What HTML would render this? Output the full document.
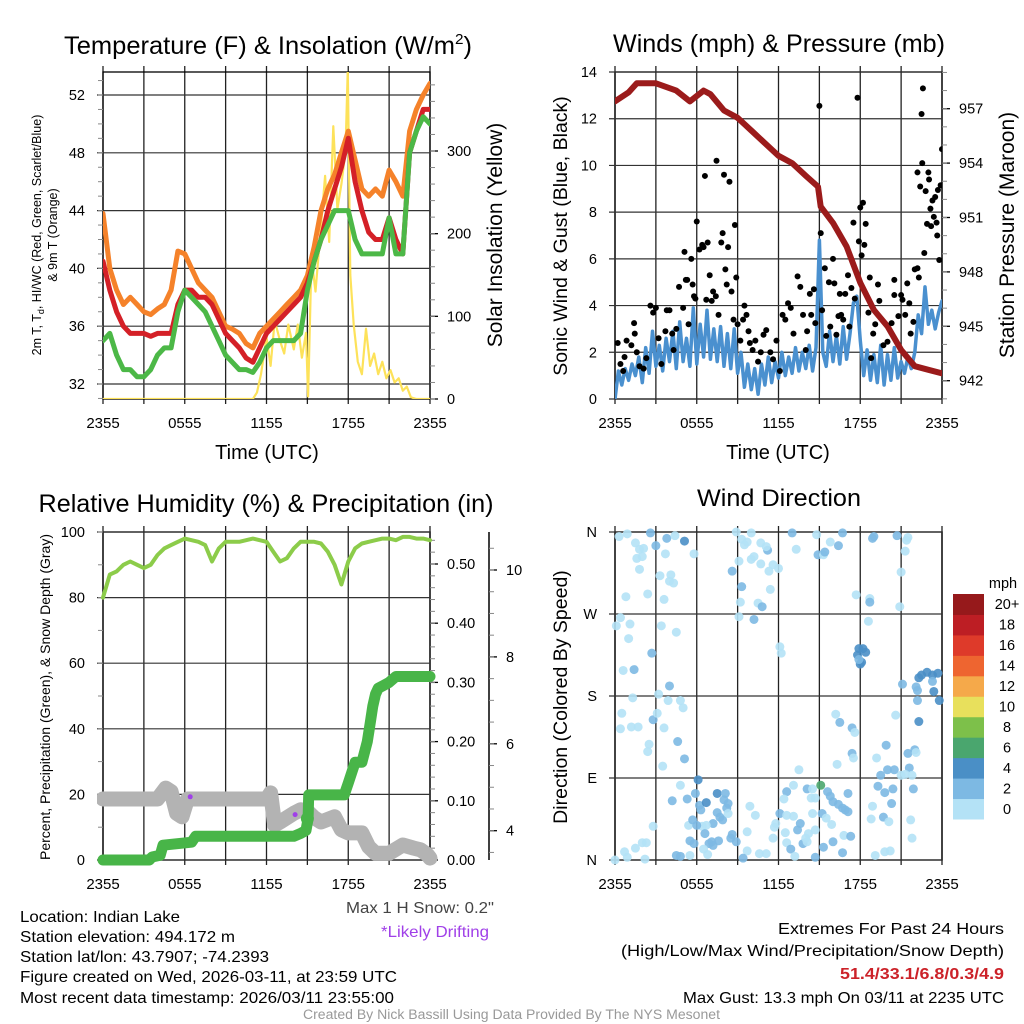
<!DOCTYPE html>
<html><head><meta charset="utf-8"><style>
html,body{margin:0;padding:0;background:#fff;}
svg{display:block;font-family:"Liberation Sans",sans-serif;}
</style></head><body>
<svg id="fig" width="1024" height="1024" viewBox="0 0 1024 1024" xmlns="http://www.w3.org/2000/svg">
<defs>
<clipPath id="c1"><rect x="103" y="72" width="327" height="327"/></clipPath>
<clipPath id="c2"><rect x="615" y="72" width="327" height="327"/></clipPath>
<clipPath id="c3"><rect x="97" y="526" width="345" height="345"/></clipPath>
<clipPath id="c4"><rect x="609" y="526" width="339" height="340"/></clipPath>
</defs>
<text x="268" y="54" font-size="25" text-anchor="middle" textLength="408" lengthAdjust="spacingAndGlyphs">Temperature (F) &amp; Insolation (W/m<tspan dy="-10" font-size="15">2</tspan><tspan dy="10">)</tspan></text>
<text x="779" y="52" font-size="25" text-anchor="middle" textLength="332" lengthAdjust="spacingAndGlyphs">Winds (mph) &amp; Pressure (mb)</text>
<text x="266" y="512" font-size="25" text-anchor="middle" textLength="455" lengthAdjust="spacingAndGlyphs">Relative Humidity (%) &amp; Precipitation (in)</text>
<text x="779" y="506" font-size="24.5" text-anchor="middle" textLength="164" lengthAdjust="spacingAndGlyphs">Wind Direction</text>
<text transform="translate(41,235) rotate(-90)" font-size="12.5" text-anchor="middle">2m T, T<tspan dy="3" font-size="9">d</tspan><tspan dy="-3">, HI/WC (Red, Green, Scarlet/Blue)</tspan></text>
<text transform="translate(57,235) rotate(-90)" font-size="12.5" text-anchor="middle">&amp; 9m T (Orange)</text>
<text transform="translate(502,235) rotate(-90)" font-size="21" text-anchor="middle">Solar Insolation (Yellow)</text>
<text transform="translate(567,236) rotate(-90)" font-size="19.5" text-anchor="middle">Sonic Wind &amp; Gust (Blue, Black)</text>
<text transform="translate(1014,235) rotate(-90)" font-size="21" text-anchor="middle">Station Pressure (Maroon)</text>
<text transform="translate(50,697) rotate(-90)" font-size="14" text-anchor="middle">Percent, Precipitation (Green), &amp; Snow Depth (Gray)</text>
<text transform="translate(567,697) rotate(-90)" font-size="19.5" text-anchor="middle">Direction (Colored By Speed)</text>
<text x="267" y="459" font-size="20" text-anchor="middle">Time (UTC)</text>
<text x="778" y="459" font-size="20" text-anchor="middle">Time (UTC)</text>
<text x="346" y="913" font-size="16" fill="#444" textLength="148" lengthAdjust="spacingAndGlyphs">Max 1 H Snow: 0.2"</text>
<text x="381" y="937" font-size="16" fill="#a040e8" textLength="108" lengthAdjust="spacingAndGlyphs">*Likely Drifting</text>
<g font-size="16">
<text x="20" y="922" textLength="160" lengthAdjust="spacingAndGlyphs">Location: Indian Lake</text>
<text x="20" y="942" textLength="215" lengthAdjust="spacingAndGlyphs">Station elevation: 494.172 m</text>
<text x="20" y="962" textLength="249" lengthAdjust="spacingAndGlyphs">Station lat/lon: 43.7907; -74.2393</text>
<text x="20" y="982" textLength="377" lengthAdjust="spacingAndGlyphs">Figure created on Wed, 2026-03-11, at 23:59 UTC</text>
<text x="20" y="1003" textLength="374" lengthAdjust="spacingAndGlyphs">Most recent data timestamp: 2026/03/11 23:55:00</text>
</g>
<g font-size="16">
<text x="778" y="934" textLength="226" lengthAdjust="spacingAndGlyphs">Extremes For Past 24 Hours</text>
<text x="621" y="956" textLength="383" lengthAdjust="spacingAndGlyphs">(High/Low/Max Wind/Precipitation/Snow Depth)</text>
<text x="840" y="979" fill="#cc2229" font-weight="bold" textLength="164" lengthAdjust="spacingAndGlyphs">51.4/33.1/6.8/0.3/4.9</text>
<text x="683" y="1003" textLength="321" lengthAdjust="spacingAndGlyphs">Max Gust: 13.3 mph On 03/11 at 2235 UTC</text>
</g>
<text x="303" y="1019" font-size="13.5" fill="#999" textLength="417" lengthAdjust="spacingAndGlyphs">Created By Nick Bassill Using Data Provided By The NYS Mesonet</text>
</svg>
<script>
// ---------- DATA ----------
const halfHours = [0,0.5,1,1.5,2,2.5,3,3.5,4,4.5,5,5.5,6,6.5,7,7.5,8,8.5,9,9.5,10,10.5,11,11.5,12,12.5,13,13.5,14,14.5,15,15.5,16,16.5,17,17.5,18,18.5,19,19.5,20,20.5,21,21.5,22,22.5,23,23.5,24];
const tempRed = [40.5,38.5,37,36,35.5,35.5,35.5,35.3,35.5,35.5,35.5,37.5,38.5,38.5,38,38,37.5,36.5,35.5,35,34.5,33.8,33.5,34.5,35.5,36,36.5,37,37.5,38,39,40.5,42,44,45.5,47,49,46,44,42.5,42,42,43.5,42,41,48,49.5,51,51];
const tempOrange = [43.8,40,38.5,37.5,38,37.5,37,36.8,37.2,37.5,38.5,41.2,41,40,39,38.5,38,37,36,35.8,35.5,34.8,34.5,35.5,36,36.5,37,37.5,38,38.5,39.5,41.5,44,45.5,46.5,48,49.5,47.5,45.5,45,45.5,45,46.8,46,45,49.5,51,52,52.8];
const tempGreen = [35,35.5,34,33,33,32.5,32.5,33,34,34.5,34.5,37,38.5,38,37.5,37,36,35,34,33.5,33,33,32.8,33.5,34.5,35,35,35,35,35.5,38.5,40.5,42,43,44,44,44,42,41,41,41,41,43.5,41,41,48,49.5,50.5,50];
const insolTimes = [0,11,11.3,11.6,12,12.3,12.6,13,13.3,13.6,14,14.3,14.6,14.9,15.05,15.3,15.6,16,16.3,16.6,16.9,17.2,17.5,17.8,17.97,18.15,18.4,18.7,19,19.3,19.6,19.9,20.2,20.5,20.8,21.1,21.4,21.7,22,22.3,22.6,23,24];
const insolValues = [0,0,8,30,75,40,95,70,55,90,60,90,50,80,3,170,130,210,270,190,330,230,260,300,400,150,90,45,30,85,40,55,30,45,25,35,20,25,10,15,2,0,0];
const tempTicks = [32,36,40,44,48,52];
const insolTicks = [0,100,200,300];
const timeTickLabels = ["2355","0555","1155","1755","2355"];

const pressureTimes = [0,1,1.6,3,4.5,5.5,6.5,7,8,9,10,11,12,13,14,14.9,15.1,16,17,18,19,20,21,22,23,24];
const pressureValues = [957.4,957.9,958.4,958.4,958.0,957.4,958.0,957.8,956.9,956.5,955.8,955.1,954.4,954.0,953.3,952.7,951.6,950.7,949.4,947.4,945.9,945.0,943.7,942.8,942.6,942.4];
const windSpeed = [0,1.2,0.6,1.3,0.8,1.5,1.0,1.8,0.7,2.2,1.1,2.9,1.4,2.3,1.2,2.6,1.6,2.9,1.3,3.3,1.6,2.6,1.4,3.9,1.5,3.2,1.8,3.8,1.7,3.0,1.6,3.1,1.4,2.8,1.3,3.0,1.1,2.0,0.5,1.5,0.4,1.3,0.2,1.5,0.6,1.8,0.7,1.6,0.9,2.0,1.0,1.8,1.1,2.2,1.2,2.0,1.3,2.3,1.2,2.2,6.8,2.0,1.4,2.9,1.6,2.7,1.5,3.1,1.7,2.8,4.1,4.4,2.5,1.0,2.1,0.8,1.9,0.7,2.3,0.6,1.9,0.8,2.2,0.9,1.6,1.1,1.8,1.3,2.0,3.6,2.8,4.8,3.2,3.8,3.0,3.7,4.2];
const gustTimes = [0.2,0.4,0.6,0.7,0.85,1.2,1.4,1.45,1.6,1.8,2.1,2.3,2.6,2.8,3.0,3.2,3.4,3.7,3.8,4.0,4.2,4.3,4.5,4.7,5.0,5.1,5.2,5.3,5.4,5.6,5.7,5.8,5.9,6.0,6.2,6.4,6.5,6.6,6.7,6.8,6.95,7.1,7.2,7.4,7.6,7.45,7.8,7.9,8.0,8.1,8.2,8.3,8.4,8.55,8.7,8.8,8.9,9.0,9.2,9.4,9.5,9.65,9.8,9.9,10.1,10.3,10.5,10.7,10.9,11.1,11.4,11.6,11.85,12.1,12.3,12.5,12.7,12.9,13.1,13.4,13.6,13.8,14.0,14.1,14.3,14.4,14.6,14.7,15.0,15.1,15.2,15.4,15.5,15.7,15.8,16.0,16.1,16.25,16.4,16.5,16.6,16.75,16.9,17.1,17.2,17.35,17.5,17.6,17.8,17.9,18.0,18.1,18.2,18.3,18.4,18.6,18.7,18.8,18.95,19.1,19.3,19.4,19.7,20.0,20.3,20.5,20.5,20.8,21.0,21.1,21.3,21.45,21.6,21.7,21.9,22.0,22.2,22.3,22.2,22.4,22.5,22.55,22.6,22.7,22.8,22.9,23.0,23.05,23.15,23.2,23.3,23.4,23.5,23.6,23.65,23.7,23.8,23.9,24.0];
const gustValues = [2.4,1.5,1.2,1.8,2.5,2.3,3.25,2.8,2.0,1.4,1.3,1.75,4.0,3.7,3.9,2.6,1.5,2.9,3.8,3.8,2.8,2.1,3.0,4.8,3.9,6.3,5.1,5.1,3.2,6.0,4.9,4.4,4.3,7.6,6.4,6.6,6.5,9.55,4.25,6.7,5.3,4.2,4.6,4.4,3.6,10.2,6.7,7.1,9.6,5.55,4.9,6.5,9.3,4.6,3.4,7.45,5.2,3.2,2.5,3.4,4.0,3.6,2.9,2.4,2.1,2.5,1.6,2.0,2.75,2.95,2.0,1.7,2.5,1.2,3.6,3.4,4.1,3.9,2.8,5.25,4.8,3.6,2.1,2.9,4.5,3.6,4.7,3.25,12.55,7.1,3.8,5.6,2.7,5.0,3.1,6.0,4.95,2.75,3.55,4.5,3.6,3.4,4.5,5.3,3.1,4.75,7.55,4.3,12.9,6.75,8.2,6.15,8.4,6.6,7.5,3.7,5.2,1.75,2.8,3.2,4.9,4.2,2.3,2.45,3.25,5.1,4.45,3.55,4.45,4.25,3.6,4.95,4.1,2.8,3.3,5.55,5.6,5.2,9.7,9.1,12.2,10.1,13.3,6.25,8.9,7.5,9.7,9.4,8.15,7.4,8.5,7.8,8.65,7.55,7.0,8.95,5.95,9.15,10.7];
const windTicks = [0,2,4,6,8,10,12,14];
const pressureTicks = [942,945,948,951,954,957];

const rhValues = [80,87,88,90,91,90,89,90,93,95,96,97,98,97.5,97,96,91,95,97,97,97,97.5,98,97.5,97,94,91,92,95,97,97,97,96.5,94,90,84,91,95,96.5,97,97.5,98,98,97.5,98.5,98.5,98,98,97.5];
const precipTimes = [0,3.4,3.6,4.2,4.4,6.5,6.8,14.0,14.5,14.9,15.05,15.1,17.7,18.0,18.5,19.0,19.4,19.6,19.8,20.0,20.2,20.6,21.0,21.5,22.0,24];
const precipValues = [0,0,0.005,0.008,0.025,0.03,0.04,0.04,0.045,0.05,0.07,0.11,0.11,0.13,0.165,0.165,0.2,0.23,0.26,0.28,0.29,0.295,0.3,0.31,0.31,0.31];
const snowTimes = [0,4,4.6,5,5.4,5.8,6.2,7,12,12.3,12.6,13,14,14.5,15,15.5,16,17,17.5,18,19,19.5,20,21,22,22.8,23.3,23.8,24];
const snowValues = [4.73,4.73,4.98,4.9,4.4,4.32,4.73,4.73,4.73,4.87,4.13,4.2,4.4,4.48,4.45,4.3,4.2,4.32,4.02,3.95,3.95,3.63,3.48,3.48,3.67,3.6,3.56,3.45,3.37];
const driftTimes = [6.4,14.1];
const driftSnow = [4.78,4.37];
const rhTicks = [0,20,40,60,80,100];
const precipTicks = [0,0.1,0.2,0.3,0.4,0.5];
const precipTickLabels = ["0.00","0.10","0.20","0.30","0.40","0.50"];
const snowTicks = [4,6,8,10];

const dirTimes = [0.3,0.9,1.5,1.8,2.1,1.6,2.0,1.8,2.6,3.0,3.8,3.7,4.4,5.1,5.8,3.3,4.1,4.0,4.3,2.4,0.8,3.6,8.9,9.5,9.3,9.7,8.6,9.1,9.3,9.2,9.1,10.2,10.0,10.7,10.2,10.0,10.7,11.2,11.1,11.6,12.0,11.3,11.4,10.5,10.8,13.0,13.3,12.1,12.2,14.8,14.9,15.3,15.4,15.8,16.4,16.7,18.9,19.0,20.7,21.5,21.4,21.3,21.0,20.9,17.7,18.7,18.7,18.6,
0.1,0.4,1.1,1.0,0.6,1.4,1.3,2.7,3.4,4.5,4.0,3.2,3.9,4.8,5.0,0.5,0.4,1.2,1.7,2.8,3.1,3.6,2.5,2.4,4.6,5.1,3.5,2.8,
17.9,18.2,17.8,18.0,18.1,18.4,17.9,16.2,16.5,17.4,17.6,17.4,17.5,16.3,
22.3,22.5,22.9,23.3,23.7,22.1,22.2,23.3,23.4,23.8,21.1,22.3,22.2,20.6,19.9,19.2,21.5,22.0,22.1,21.6,19.5,20.0,20.5,21.0,21.3,21.8,19.3,19.8,20.4,20.3,21.9,18.9,18.8,19.7,20.1,21.7,21.8,19.8,20.2,19.1,
6.1,4.8,5.9,5.3,4.2,6.2,6.3,6.7,7.5,8.1,8.3,8.0,8.2,7.5,7.9,7.7,8.3,7.2,6.7,6.4,5.4,5.7,6.0,6.6,5.5,5.8,7.1,7.2,6.9,7.6,6.5,6.8,8.6,8.5,8.9,9.7,9.9,10.3,9.7,10.6,11.1,9.4,4.5,4.8,5.5,0.7,1.5,2.0,2.3,0.9,2.2,0.0,
12.6,12.4,13.1,13.5,14.1,14.5,14.4,14.7,15.1,15.6,15.8,16.0,16.4,16.7,16.9,17.1,17.1,12.1,12.6,13.1,11.8,11.7,12.5,13.4,13.6,14.2,14.5,15.2,15.5,15.9,11.6,12.6,12.9,13.8,14.0,14.1,14.7,15.3,16.0,16.7,16.8,17.3,14.7,13.2];
const dirDegrees = [355,358,348,341,342,331,333,319,359,345,353,336,356,350,336,312,313,306,304,292,289,286,360,346,352,349,317,328,300,283,267,264,359,348,333,330,325,340,344,324,320,317,297,282,278,359,341,234,227,357,335,335,338,349,345,359,353,355,356,354,351,339,316,278,291,287,283,262,
257,266,259,243,208,209,178,227,257,250,191,182,175,175,167,161,144,146,146,154,161,145,127,119,130,111,103,37,
232,232,225,215,217,228,220,160,151,145,140,117,112,105,
200,203,206,203,205,190,186,196,185,175,193,152,175,159,126,112,117,121,118,101,93,99,99,93,94,93,81,74,78,62,78,59,45,47,42,44,24,9,10,5,
88,82,73,67,65,60,55,63,73,73,62,66,57,52,44,47,51,40,38,37,38,44,38,29,21,18,20,16,18,21,12,6,28,24,20,31,59,49,10,7,7,2,5,4,5,9,13,19,19,3,1,0,
75,67,82,99,78,78,68,68,82,75,70,64,61,57,55,53,73,51,49,48,40,36,30,33,40,29,51,51,46,39,24,19,12,18,24,20,33,14,20,8,27,26,3,4];
const dirSpeeds = [1,1,1,1,1,1,1,1,2,3,3,1,1,5,1,1,1,1,1,1,1,1,1,1,1,1,3,1,2,1,1,3,1,1,1,1,1,3,1,1,1,1,1,1,3,3,1,1,1,1,3,1,3,1,3,3,2,2,2,1,1,1,1,1,1,1,3,1,
1,1,1,1,1,3,1,3,1,1,3,1,1,1,1,1,1,1,1,3,1,1,1,1,3,3,1,1,
5,5,5,5,5,5,3,1,3,3,1,3,1,1,
5,5,5,5,5,3,3,3,5,5,3,5,3,1,3,1,3,3,1,3,3,3,3,1,1,1,3,3,3,3,3,1,1,3,1,1,1,1,1,1,
5,1,3,3,3,3,3,5,5,3,3,3,3,3,3,3,1,3,1,1,1,3,3,3,3,3,3,3,3,3,1,1,3,3,3,1,1,1,1,1,1,3,3,3,1,1,1,1,1,1,1,1,
3,1,1,1,3,1,1,1,7,3,3,3,3,3,3,3,3,3,1,1,1,1,1,3,3,1,1,3,1,1,1,1,3,3,1,1,1,3,3,3,1,3,3,1];
const dirTickLabels = ["N","E","S","W","N"];
const dirTicks = [0,90,180,270,360];
const speedBinLabels = ["0","2","4","6","8","10","12","14","16","18","20+"];
const speedBinColors = ["#b4e2f6","#7db9e3","#4a8fc6","#4aa66e","#7dc04a","#e8e05c","#f5a94a","#ee6530","#de3a2a","#bd1e24","#96191b"];

// ---------- HELPERS ----------
const NS = "http://www.w3.org/2000/svg";
const svg = document.getElementById("fig");
function mk(tag, attrs, parent, name) {
  const el = document.createElementNS(NS, tag);
  for (const k in attrs) el.setAttribute(k, attrs[k]);
  
  
  (parent || svg).appendChild(el);
  return el;
}
function lin(d0, d1, r0, r1) { return v => r0 + (v - d0) * (r1 - r0) / (d1 - d0); }
function pathFrom(xs, ys, sx, sy) {
  return xs.map((t, i) => (i ? "L" : "M") + sx(t).toFixed(1) + "," + sy(ys[i]).toFixed(1)).join("");
}
function frame(P, name) {
  const g = mk("g", {}, svg, name + "-axes");
  for (let h = 0; h <= 24; h += 3) {
    const x = P.sx(h);
    mk("line", {x1: x, x2: x, y1: P.y0 - 6, y2: P.y1 + 5, stroke: "#222", "stroke-width": 1.3}, g, "x-grid-line");
  }
  timeTickLabels.forEach((lab, i) => {
    const t = mk("text", {x: P.sx(i * 6), y: P.y1 + 29, "font-size": 15, "text-anchor": "middle"}, g, "x-tick-label");
    t.textContent = lab;
  });
  mk("rect", {x: P.x0, y: P.y0, width: P.x1 - P.x0, height: P.y1 - P.y0, fill: "none", stroke: "#000", "stroke-width": 1.3}, g, "plot-frame");
  return g;
}
function leftAxis(g, P, ticks, sy, labels, minorStep, lo, hi, name) {
  ticks.forEach((v, i) => {
    const y = sy(v);
    mk("line", {x1: P.x0 - 6, x2: P.x1, y1: y, y2: y, stroke: "#333", "stroke-width": 1.2}, g, name + "-grid-line");
    const t = mk("text", {x: P.x0 - 18, y: y + 5, "font-size": 14.5, "text-anchor": "end"}, g, name + "-tick-label");
    t.textContent = labels ? labels[i] : v;
  });
  if (minorStep) for (let v = lo; v <= hi + 1e-9; v += minorStep) {
    const y = sy(v);
    if (y < P.y0 - 0.5 || y > P.y1 + 0.5) continue;
    mk("line", {x1: P.x0 - 5, x2: P.x0, y1: y, y2: y, stroke: "#888", "stroke-width": 1}, g, name + "-minor-tick");
  }
}
function rightAxis(g, P, ticks, sy, labels, minorStep, lo, hi, name, x) {
  const ax = x || P.x1;
  ticks.forEach((v, i) => {
    const y = sy(v);
    mk("line", {x1: ax, x2: ax + 8, y1: y, y2: y, stroke: "#000", "stroke-width": 1.3}, g, name + "-tick");
    const t = mk("text", {x: ax + 17, y: y + 5, "font-size": 14.5}, g, name + "-tick-label");
    t.textContent = labels ? labels[i] : v;
  });
  if (minorStep) for (let v = lo; v <= hi + 1e-9; v += minorStep) {
    const y = sy(v);
    if (y < P.y0 - 0.5 || y > P.y1 + 0.5) continue;
    mk("line", {x1: ax, x2: ax + 5, y1: y, y2: y, stroke: "#888", "stroke-width": 1}, g, name + "-minor-tick");
  }
}

// ---------- PANEL 1: TEMPERATURE ----------
const P1 = {x0: 103, x1: 430, y0: 72, y1: 399}; P1.sx = lin(0, 24, P1.x0, P1.x1);
const sT = lin(32, 52, 384, 95);
const sI = lin(0, 300, 399, 151);
const g1 = frame(P1, "temperature-chart");
leftAxis(g1, P1, tempTicks, sT, null, 1, 31, 53, "temperature-axis");
rightAxis(g1, P1, insolTicks, sI, null, 20, 0, 400, "insolation-axis");
const d1 = mk("g", {"clip-path": "url(#c1)", fill: "none", "stroke-linejoin": "round", "stroke-linecap": "round"}, svg, "temperature-series");
mk("path", {d: pathFrom(insolTimes, insolValues, P1.sx, sI), stroke: "#fde25a", "stroke-width": 2.2}, d1, "insolation-line");
mk("path", {d: pathFrom(halfHours, tempOrange, P1.sx, sT), stroke: "#f5822a", "stroke-width": 5}, d1, "temp-9m-line");
mk("path", {d: pathFrom(halfHours, tempRed, P1.sx, sT), stroke: "#d42027", "stroke-width": 5}, d1, "temp-2m-line");
mk("path", {d: pathFrom(halfHours, tempGreen, P1.sx, sT), stroke: "#4cb847", "stroke-width": 5}, d1, "dewpoint-line");

// ---------- PANEL 2: WINDS ----------
const P2 = {x0: 615, x1: 942, y0: 72, y1: 399}; P2.sx = lin(0, 24, P2.x0, P2.x1);
const sW = lin(0, 14, 399, 72);
const sP = lin(942, 957, 380.7, 108.7);
const g2 = frame(P2, "wind-chart");
leftAxis(g2, P2, windTicks, sW, null, 0, 0, 0, "wind-axis");
rightAxis(g2, P2, pressureTicks, sP, null, 1, 940, 960, "pressure-axis");
const d2 = mk("g", {"clip-path": "url(#c2)", fill: "none", "stroke-linejoin": "round", "stroke-linecap": "round"}, svg, "wind-series");
const windTimes = windSpeed.map((v, i) => i * 0.25);
mk("path", {d: pathFrom(windTimes, windSpeed, P2.sx, sW), stroke: "#4a90cf", "stroke-width": 3.5}, d2, "sustained-wind-line");
mk("path", {d: pathFrom(pressureTimes, pressureValues, P2.sx, sP), stroke: "#9b1b1b", "stroke-width": 6}, d2, "pressure-line");
gustTimes.forEach((t, i) => {
  mk("circle", {cx: P2.sx(t), cy: sW(gustValues[i]), r: 3, fill: "#000"}, d2, "gust-point");
});

// ---------- PANEL 3: HUMIDITY ----------
const P3 = {x0: 103, x1: 430, y0: 532, y1: 860}; P3.sx = lin(0, 24, P3.x0, P3.x1);
const sR = lin(0, 100, 860, 532);
const sPr = lin(0, 0.5, 860, 564);
const sS = lin(4, 10, 830.7, 570);
const g3 = frame(P3, "humidity-chart");
leftAxis(g3, P3, rhTicks, sR, null, 10, 0, 100, "humidity-axis");
rightAxis(g3, P3, precipTicks, sPr, precipTickLabels, 0.02, 0, 0.56, "precip-axis");
mk("line", {x1: 489, x2: 489, y1: 532, y2: 860, stroke: "#000", "stroke-width": 1.5}, g3, "snow-axis-line");
rightAxis(g3, P3, snowTicks, sS, null, 0.5, 3.5, 11, "snow-axis", 489);
const d3 = mk("g", {"clip-path": "url(#c3)", fill: "none", "stroke-linejoin": "round", "stroke-linecap": "round"}, svg, "humidity-series");
mk("path", {d: pathFrom(snowTimes, snowValues, P3.sx, sS), stroke: "#b3b3b3", "stroke-width": 15}, d3, "snow-depth-line");
mk("path", {d: pathFrom(precipTimes, precipValues, P3.sx, sPr), stroke: "#48b548", "stroke-width": 11}, d3, "precipitation-line");
mk("circle", {cx: P3.sx(15.0), cy: sPr(0.07), r: 6.5, fill: "#48b548"}, d3, "precipitation-point");
mk("path", {d: pathFrom(halfHours, rhValues, P3.sx, sR), stroke: "#8ccc4a", "stroke-width": 4}, d3, "humidity-line");
driftTimes.forEach((t, i) => {
  mk("circle", {cx: P3.sx(t), cy: sS(driftSnow[i]), r: 2.5, fill: "#a040e8"}, d3, "drifting-marker");
});

// ---------- PANEL 4: WIND DIRECTION ----------
const P4 = {x0: 615, x1: 942, y0: 532, y1: 860}; P4.sx = lin(0, 24, P4.x0, P4.x1);
const sD = lin(0, 360, 860, 532);
const g4 = frame(P4, "direction-chart");
leftAxis(g4, P4, dirTicks, sD, dirTickLabels, 0, 0, 0, "direction-axis");
const d4 = mk("g", {"clip-path": "url(#c4)"}, svg, "direction-series");
dirTimes.forEach((t, i) => {
  const bin = Math.min(10, Math.floor(dirSpeeds[i] / 2));
  mk("circle", {cx: P4.sx(t), cy: sD(dirDegrees[i]), r: 4.5, fill: speedBinColors[bin], "fill-opacity": 0.9}, d4, "direction-point");
});
const cb = mk("g", {}, svg, "speed-colorbar");
const cbTop = 594, cbH = 225 / 11;
const mph = mk("text", {x: 1003, y: 588, "font-size": 14.5, "text-anchor": "middle"}, cb, "colorbar-unit-label");
mph.textContent = "mph";
speedBinLabels.forEach((lab, i) => {
  const k = 10 - i;
  mk("rect", {x: 953, y: cbTop + k * cbH, width: 31, height: cbH + 0.5, fill: speedBinColors[i]}, cb, "colorbar-bin");
  const t = mk("text", {x: 1007, y: cbTop + k * cbH + cbH / 2 + 5, "font-size": 14.5, "text-anchor": "middle"}, cb, "colorbar-label");
  t.textContent = lab;
});
</script>
</body></html>
